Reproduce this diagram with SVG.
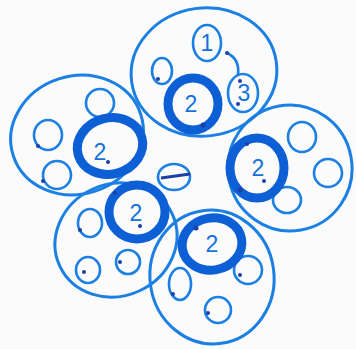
<svg xmlns="http://www.w3.org/2000/svg" width="356" height="349" viewBox="0 0 356 349">
<style>
.cell{fill:none;stroke:#1b7fe3;stroke-width:3}
.sm{fill:none;stroke:#1b7fe3;stroke-width:2.6}
.ring{fill:none;stroke:#0d5fd6;stroke-width:9}
.dot{fill:#1c3fa8}
.num{font-family:"Liberation Sans",sans-serif;font-size:23px;fill:#1470dd;text-anchor:middle}
</style>
<rect width="356" height="349" fill="#fbfbfb"/>
<g id="cell-top">
<ellipse class="cell" cx="204" cy="72" rx="73" ry="64" transform="rotate(-8 204 72)"/>
<ellipse class="sm" cx="207" cy="43" rx="14" ry="18"/>
<text class="num" x="207" y="51">1</text>
<ellipse class="sm" cx="162" cy="71" rx="10" ry="13"/>
<ellipse class="sm" cx="243" cy="93" rx="15" ry="19"/>
<text class="num" x="244" y="101">3</text>
<path class="sm" d="M227 53 Q240 59 238 75"/>
<ellipse class="ring" cx="193" cy="104" rx="25" ry="26"/>
<text class="num" x="191" y="112">2</text>
<circle class="dot" cx="158" cy="79" r="2"/>
<circle class="dot" cx="227" cy="53" r="2"/>
<circle class="dot" cx="240" cy="81" r="2"/>
<circle class="dot" cx="238" cy="104" r="2"/>
<circle class="dot" cx="203" cy="125" r="2.5"/>
</g>
<g id="cell-left">
<ellipse class="cell" cx="77" cy="135" rx="67" ry="59" transform="rotate(-18 77 135)"/>
<ellipse class="sm" cx="100" cy="103" rx="14" ry="14"/>
<ellipse class="sm" cx="48" cy="135" rx="14" ry="15"/>
<ellipse class="sm" cx="57" cy="175" rx="14" ry="14"/>
<ellipse class="ring" cx="110" cy="146" rx="33" ry="28" transform="rotate(-15 110 146)"/>
<text class="num" x="100" y="160">2</text>
<circle class="dot" cx="38" cy="146" r="2"/>
<circle class="dot" cx="43" cy="181" r="2"/>
<circle class="dot" cx="108" cy="162" r="2"/>
</g>
<g id="cell-right">
<ellipse class="cell" cx="290" cy="168" rx="62" ry="63" transform="rotate(-10 290 168)"/>
<ellipse class="sm" cx="302" cy="137" rx="14" ry="15"/>
<ellipse class="sm" cx="328" cy="173" rx="14" ry="14"/>
<ellipse class="sm" cx="287" cy="200" rx="14" ry="13"/>
<ellipse class="ring" cx="257" cy="168" rx="27" ry="30"/>
<text class="num" x="258" y="176">2</text>
<circle class="dot" cx="240" cy="190" r="2.5"/>
<circle class="dot" cx="264" cy="181" r="2"/>
<circle class="dot" cx="247" cy="144" r="2"/>
</g>
<g id="cell-bottomleft">
<ellipse class="cell" cx="116" cy="240" rx="62" ry="56" transform="rotate(-25 116 240)"/>
<ellipse class="sm" cx="90" cy="223" rx="12" ry="14"/>
<ellipse class="sm" cx="88" cy="270" rx="12" ry="13"/>
<ellipse class="sm" cx="128" cy="262" rx="12" ry="12"/>
<ellipse class="ring" cx="137" cy="212" rx="28" ry="27"/>
<text class="num" x="136" y="221">2</text>
<ellipse class="sm" cx="174" cy="177" rx="16" ry="13"/>
<path d="M161 178 L190 174" stroke="#1c3fa8" stroke-width="3" fill="none"/>
<circle class="dot" cx="80" cy="230" r="2"/>
<circle class="dot" cx="84" cy="272" r="2"/>
<circle class="dot" cx="120" cy="262" r="2"/>
<circle class="dot" cx="140" cy="226" r="2"/>
<circle class="dot" cx="115" cy="193" r="2"/>
</g>
<g id="cell-bottom">
<ellipse class="cell" cx="212" cy="277" rx="62" ry="67" transform="rotate(-8 212 277)"/>
<ellipse class="sm" cx="180" cy="284" rx="11" ry="16"/>
<ellipse class="sm" cx="248" cy="270" rx="14" ry="14"/>
<ellipse class="sm" cx="218" cy="310" rx="13" ry="13"/>
<ellipse class="ring" cx="212" cy="244" rx="30" ry="26" transform="rotate(-10 212 244)"/>
<text class="num" x="212" y="252">2</text>
<circle class="dot" cx="173" cy="294" r="2"/>
<circle class="dot" cx="240" cy="275" r="2"/>
<circle class="dot" cx="208" cy="313" r="2"/>
<circle class="dot" cx="196" cy="228" r="2.5"/>
</g>
<g id="connectors"></g>
</svg>
